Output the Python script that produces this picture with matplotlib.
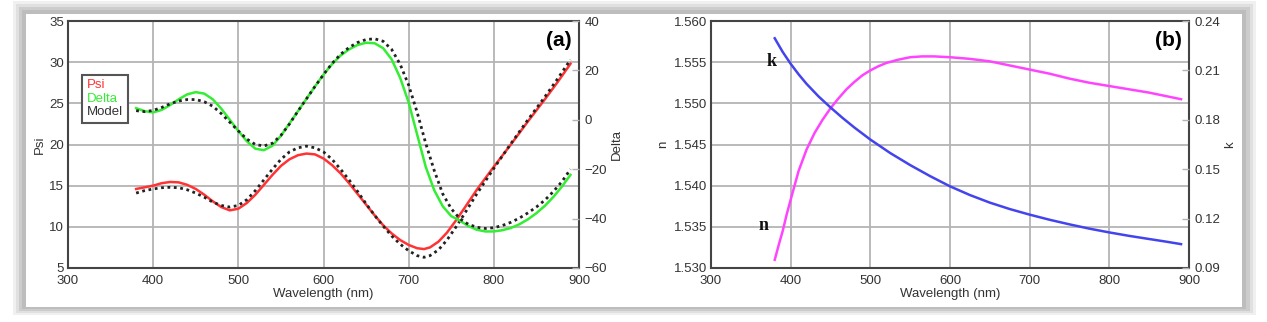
import numpy as np
import matplotlib.pyplot as plt
from matplotlib.patches import Rectangle

# panel (a): ellipsometric data, wavelength in nm
wl_psi = [380, 390, 400, 410, 420, 430, 440, 450, 460, 470, 480, 490, 500, 510, 520, 530,
          540, 550, 560, 570, 580, 590, 600, 610, 620, 630, 640, 650, 660, 670, 680, 690,
          700, 710, 718, 725, 735, 745, 755, 765, 780, 800, 820, 840, 860, 875, 890]
psi_exp = [14.6, 14.8, 15.0, 15.3, 15.45, 15.4, 15.1, 14.6, 13.9, 13.1, 12.4, 12.0, 12.2,
           12.9, 13.9, 15.1, 16.3, 17.4, 18.2, 18.7, 18.9, 18.8, 18.3, 17.5, 16.5, 15.3,
           14.0, 12.7, 11.4, 10.2, 9.2, 8.4, 7.8, 7.4, 7.3, 7.5, 8.2, 9.3, 10.7, 12.2,
           14.5, 17.3, 20.0, 22.8, 25.5, 27.6, 29.8]
psi_mod = [14.1, 14.4, 14.6, 14.75, 14.8, 14.75, 14.5, 14.1, 13.6, 13.0, 12.6, 12.4, 12.6,
           13.3, 14.4, 15.7, 17.0, 18.2, 19.1, 19.6, 19.8, 19.6, 19.1, 18.2, 17.0, 15.7,
           14.3, 12.8, 11.4, 10.1, 8.9, 7.9, 7.1, 6.5, 6.3, 6.5, 7.2, 8.4, 9.9, 11.5,
           14.0, 17.1, 20.1, 23.0, 25.8, 28.0, 30.3]

wl_del = [380, 390, 400, 410, 420, 430, 440, 450, 460, 470, 480, 490, 500, 510, 520, 530,
          540, 550, 560, 570, 580, 590, 600, 610, 620, 630, 640, 650, 660, 670, 680, 690,
          700, 710, 720, 730, 740, 750, 760, 770, 780, 790, 800, 810, 820, 830, 840, 850,
          860, 870, 880, 890]
delta_exp = [4.7, 3.5, 3.0, 4.0, 6.0, 8.3, 10.3, 11.2, 10.6, 8.3, 4.5, 0.0, -4.5, -8.7,
             -11.7, -12.3, -10.5, -6.5, -1.5, 3.5, 8.5, 13.5, 18.3, 22.5, 26.0, 28.5, 30.3,
             31.2, 31.0, 29.0, 24.5, 17.0, 7.0, -6.0, -19.0, -28.5, -35.0, -39.0, -40.8,
             -43.0, -44.5, -45.2, -45.2, -44.7, -43.8, -42.3, -40.3, -37.8, -34.8, -31.2,
             -27.0, -22.3]
delta_mod = [3.7, 3.3, 3.8, 5.0, 6.5, 7.6, 8.2, 8.2, 7.3, 5.5, 2.5, -1.0, -4.5, -7.8,
             -10.0, -10.6, -9.5, -6.3, -1.7, 3.5, 8.5, 13.5, 18.3, 22.8, 26.5, 29.3, 31.3,
             32.5, 32.8, 31.8, 28.5, 22.5, 14.0, 3.0, -9.5, -20.5, -30.0, -36.0, -40.0,
             -42.3, -43.5, -44.0, -43.7, -42.8, -41.5, -39.8, -37.7, -35.3, -32.5, -29.0,
             -25.0, -20.0]

# panel (b): optical constants
wl_n = [380, 385, 390, 395, 400, 410, 420, 430, 440, 450, 460, 470, 480, 490, 500, 510,
        520, 535, 550, 565, 580, 600, 625, 650, 675, 700, 725, 750, 775, 800, 825, 850,
        875, 890]
n_vals = [1.5310, 1.5328, 1.5345, 1.5365, 1.5383, 1.5418, 1.5444, 1.5464, 1.5480, 1.5494,
          1.5506, 1.5517, 1.5526, 1.5534, 1.5540, 1.5545, 1.5549, 1.5553, 1.5556, 1.5557,
          1.5557, 1.5556, 1.5554, 1.5551, 1.5546, 1.5541, 1.5536, 1.5530, 1.5525, 1.5521,
          1.5517, 1.5513, 1.5508, 1.5505]
wl_k = [380, 390, 400, 410, 420, 435, 450, 465, 480, 500, 525, 550, 575, 600, 625, 650,
        675, 700, 725, 750, 775, 800, 825, 850, 870, 890]
k_vals = [0.2295, 0.2212, 0.2140, 0.2076, 0.2018, 0.1942, 0.1875, 0.1812, 0.1753, 0.1680,
          0.1598, 0.1525, 0.1458, 0.1396, 0.1343, 0.1297, 0.1258, 0.1224, 0.1193, 0.1165,
          0.1139, 0.1116, 0.1095, 0.1076, 0.1061, 0.1045]

plt.rcParams['font.family'] = ['Liberation Sans', 'DejaVu Sans']
TXT = '#333333'
GRID = '#b4b4b4'
SPINE = '#444444'

fig = plt.figure(figsize=(12.67, 3.22), dpi=100)
W, H = 1267, 322

def px(x0, y0, x1, y1):
    return (x0 / W, 1 - y1 / H, (x1 - x0) / W, (y1 - y0) / H)

# frame with soft shadow
for pad, col in [(13, '#f0f0f0'), (10, '#e0e0e0'), (7, '#cccccc'), (4, '#bdbdbd')]:
    x, y, w, h = px(26 - pad, 14 - pad, 1242 + pad * 1.1, 307 + pad * 0.6)
    fig.patches.append(Rectangle((x, y), w, h, transform=fig.transFigure,
                                 facecolor=col, edgecolor='none', zorder=-2))
x, y, w, h = px(26, 14, 1242, 307)
fig.patches.append(Rectangle((x, y), w, h, transform=fig.transFigure,
                             facecolor='white', edgecolor='none', zorder=-1))


def style(ax, axr):
    ax.set_xlim(300, 900)
    ax.set_xticks(np.arange(300, 901, 100))
    ax.grid(True, color=GRID, lw=1.3)
    ax.set_axisbelow(True)
    for s in ax.spines.values():
        s.set_color(SPINE)
        s.set_linewidth(1.5)
    ax.tick_params(axis='both', length=0, colors=TXT, labelsize=9.5, pad=3)
    ax.tick_params(axis='x', pad=5)
    axr.tick_params(axis='y', direction='in', length=5, width=1,
                    colors=TXT, labelsize=9.5, pad=4)
    axr.tick_params(axis='y', color=GRID)
    for s in axr.spines.values():
        s.set_visible(False)
    ax.set_xlabel('Wavelength (nm)', color=TXT, fontsize=9.5, labelpad=1)
    ax.patch.set_alpha(0)


# ---- panel (a)
ax1 = fig.add_axes(px(68, 21, 579, 268))
ax1r = ax1.twinx()
ax1.plot(wl_psi, psi_exp, color='#ff3333', lw=1.8, zorder=3)
ax1.plot(wl_psi, psi_mod, color='#222222', lw=2, ls=(0, (1, 1.3)), zorder=4)
ax1r.plot(wl_del, delta_exp, color='#33ee33', lw=1.8, zorder=3)
ax1r.plot(wl_del, delta_mod, color='#222222', lw=2, ls=(0, (1, 1.3)), zorder=4)
ax1.set_ylim(5, 35)
ax1.set_yticks(np.arange(5, 36, 5))
ax1r.set_ylim(-60, 40)
ax1r.set_yticks(np.arange(-60, 41, 20))
style(ax1, ax1r)
ax1.set_ylabel('Psi', color=TXT, fontsize=9.5, labelpad=2)
ax1r.set_ylabel('Delta', color=TXT, fontsize=9.5, labelpad=3)
ax1.text(0.985, 0.92, '(a)', transform=ax1.transAxes, ha='right', va='center',
         fontsize=15, fontweight='bold', color='black')
handles = [plt.Line2D([], [], lw=0) for _ in range(3)]
leg = ax1r.legend(handles=handles, labels=['Psi', 'Delta', 'Model'],
                  loc='upper left', bbox_to_anchor=(0.015, 0.81), handlelength=0,
                  handletextpad=0, fontsize=9.5, fancybox=False, framealpha=1,
                  borderpad=0.35, labelspacing=0.1)
leg.get_frame().set_edgecolor('#555555')
leg.get_frame().set_linewidth(1.5)
for t, c in zip(leg.get_texts(), ['#ff3333', '#33ee33', '#333333']):
    t.set_color(c)

# ---- panel (b)
ax2 = fig.add_axes(px(711, 21, 1189, 268))
ax2r = ax2.twinx()
ax2.plot(wl_n, n_vals, color='#ff44ff', lw=1.8, zorder=3)
ax2r.plot(wl_k, k_vals, color='#4444ee', lw=1.8, zorder=3)
ax2.set_ylim(1.530, 1.560)
ax2.set_yticks(np.arange(1.530, 1.5601, 0.005))
ax2.set_yticklabels(['%.3f' % v for v in np.arange(1.530, 1.5601, 0.005)])
ax2r.set_ylim(0.09, 0.24)
ax2r.set_yticks(np.arange(0.09, 0.241, 0.03))
ax2r.set_yticklabels(['%.2f' % v for v in np.arange(0.09, 0.241, 0.03)])
style(ax2, ax2r)
ax2.set_ylabel('n', color=TXT, fontsize=9.5, labelpad=3)
ax2r.set_ylabel('k', color=TXT, fontsize=9.5, labelpad=3)
ax2.text(0.985, 0.92, '(b)', transform=ax2.transAxes, ha='right', va='center',
         fontsize=15, fontweight='bold', color='black')
ax2.text(376, 1.5551, 'k', ha='center', va='center', fontsize=13, fontweight='bold',
         family='Liberation Serif', color='#111111')
ax2.text(366, 1.5352, 'n', ha='center', va='center', fontsize=13, fontweight='bold',
         family='Liberation Serif', color='#111111')

fig.savefig('out.png', dpi=100)
